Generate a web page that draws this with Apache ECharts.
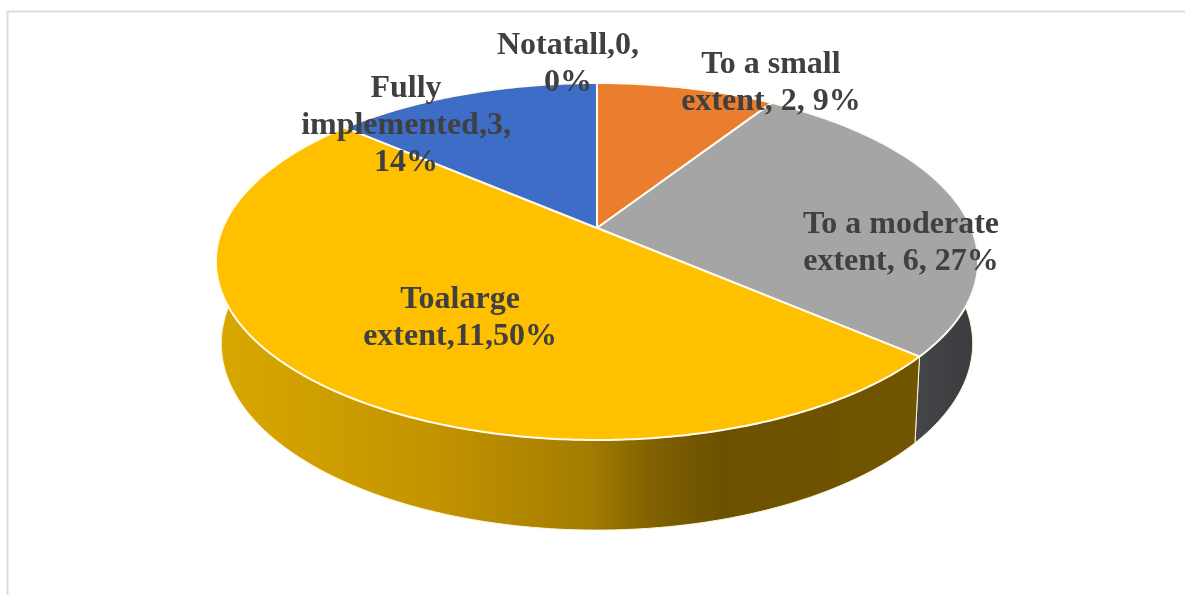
<!DOCTYPE html>
<html>
<head>
<meta charset="utf-8">
<title>Extent of implementation</title>
<style>
  html, body { margin: 0; padding: 0; background: #fff; }
  #chart { width: 1185px; height: 595px; }
</style>
<script src="https://cdn.jsdelivr.net/npm/echarts@6/dist/echarts.min.js"></script>
</head>
<body>
<div id="chart"></div>
<script>
// Slice data, clockwise from twelve o'clock
const categories = ['Not at all', 'To a small extent', 'To a moderate extent', 'To a large extent', 'Fully implemented'];
const values = [0, 2, 6, 11, 3];
const labelLines = [
  ['Notatall,0,', '0%'],
  ['To a small', 'extent, 2, 9%'],
  ['To a moderate', 'extent, 6, 27%'],
  ['Toalarge', 'extent,11,50%'],
  ['Fully', 'implemented,3,', '14%']
];

// Presentation settings
const topColors = ['#5B9BD5', '#EB7D2E', '#A5A5A6', '#FFC000', '#3D6DC6'];
const sideStops = [
  null,
  null,
  [[0, '#47484B'], [0.9, '#47484B'], [1, '#3A3B3D']],
  [[0, '#D9A700'], [0.28, '#C49400'], [0.49, '#A37C00'], [0.58, '#7E5F00'], [0.66, '#6C5100'], [1, '#735600']],
  null
];
const labelCenters = [[568, 46], [771, 65], [901, 225], [460, 300], [406, 89]];
const lineGap = 37;

// Perspective disc: the rim is a circle seen from above, so the hub sits above the ellipse centre
const lens = { k: 0.1877, cx: 597, topY: 228, topA: 374.3, topB: 172.2, baseY: 308.5, baseA: 369, baseB: 180 };
const sideLeft = 216, sideRight = 978;

const total = values.reduce((a, b) => a + b, 0);

function project(theta, cy, a, b) {
  const sx = Math.sin(theta), co = Math.cos(theta);
  const d = 1 + lens.k * co;
  return [lens.cx + a * sx / d, cy - b * co / d];
}
function arc(from, to, cy, a, b) {
  const steps = Math.max(2, Math.ceil((to - from) / 0.01));
  const pts = [];
  for (let i = 0; i <= steps; i++) {
    pts.push(project(from + (to - from) * i / steps, cy, a, b));
  }
  return pts;
}
function sliceAngles(index) {
  let before = 0;
  for (let i = 0; i < index; i++) before += values[i];
  return [2 * Math.PI * before / total, 2 * Math.PI * (before + values[index]) / total];
}

function renderSide(params, api) {
  const i = api.value(0);
  const [from, to] = sliceAngles(i);
  if (!sideStops[i] || to <= from) return { type: 'group', children: [] };
  const upper = arc(from, to, lens.topY, lens.topA, lens.topB);
  const lower = arc(from, to, lens.baseY, lens.baseA, lens.baseB).reverse();
  const fill = {
    type: 'linear', global: true, x: sideLeft, y: 0, x2: sideRight, y2: 0,
    colorStops: sideStops[i].map(s => ({ offset: s[0], color: s[1] }))
  };
  return {
    type: 'polygon',
    shape: { points: upper.concat(lower) },
    style: { fill: fill, stroke: '#FFF6D8', lineWidth: 1 }
  };
}

function renderTop(params, api) {
  const i = api.value(0);
  const [from, to] = sliceAngles(i);
  if (to <= from) return { type: 'group', children: [] };
  const rim = arc(from, to, lens.topY, lens.topA, lens.topB);
  return {
    type: 'polygon',
    shape: { points: [[lens.cx, lens.topY]].concat(rim) },
    style: { fill: topColors[i], stroke: '#FFFBEF', lineWidth: 2, lineJoin: 'round' }
  };
}

function renderLabel(params, api) {
  const i = api.value(0);
  const c = labelCenters[i];
  return {
    type: 'group',
    children: labelLines[i].map((line, n) => ({
      type: 'text',
      x: c[0],
      y: c[1] + n * lineGap,
      style: {
        text: line, fill: '#404040', align: 'center', verticalAlign: 'middle',
        font: 'bold 32px "Liberation Serif", "Times New Roman", serif'
      }
    }))
  };
}

const rows = categories.map((name, i) => ({ name: name, value: [i, values[i]] }));
const layer = (renderItem, z) => ({
  type: 'custom', coordinateSystem: 'none', renderItem: renderItem, data: rows, z: z, silent: true,
  animation: false, clip: false
});

const chart = echarts.init(document.getElementById('chart'), null, { renderer: 'canvas' });
chart.setOption({
  backgroundColor: '#ffffff',
  animation: false,
  tooltip: { show: false },
  graphic: [{
    type: 'polyline',
    silent: true,
    shape: { points: [[7.5, 595], [7.5, 11.5], [1185, 11.5]] },
    style: { stroke: '#DCDCDC', lineWidth: 2, fill: null }
  }],
  series: [layer(renderSide, 2), layer(renderTop, 3), layer(renderLabel, 4)]
});
</script>
</body>
</html>
